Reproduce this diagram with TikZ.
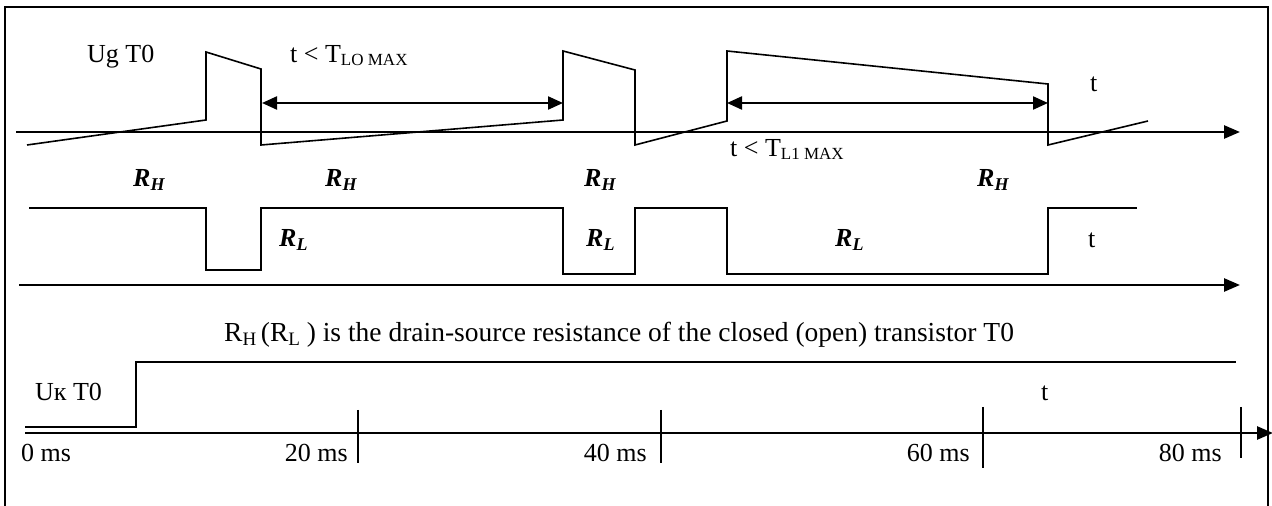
\documentclass[tikz,border=0pt]{standalone}
\usepackage{fontspec}
\setmainfont{Liberation Serif}
\usetikzlibrary{arrows.meta}
\newcommand{\subsc}[1]{\raisebox{-0.25ex}{\fontsize{17bp}{20bp}\selectfont #1}}
\newcommand{\capsub}[1]{\raisebox{-0.25ex}{\fontsize{19bp}{22bp}\selectfont #1}}
\newcommand{\rlab}[1]{\textbf{\textit{R}}\raisebox{-0.3ex}{\fontsize{18bp}{20bp}\selectfont\textbf{\textit{#1}}}}
\begin{document}
\begin{tikzpicture}[x=1bp,y=-1bp,
  wave/.style={line width=1.6bp, line join=miter},
  axisline/.style={line width=2.6bp, -{Triangle[length=16bp,width=13bp]}},
  dim/.style={line width=2.2bp, {Triangle[length=15bp,width=13bp]}-{Triangle[length=15bp,width=13bp]}},
  tick/.style={line width=1.6bp},
  lbl/.style={inner sep=0pt, font=\fontsize{26bp}{30bp}\selectfont},
  caplbl/.style={inner sep=0pt, font=\fontsize{27.5bp}{31bp}\selectfont},
  frame/.style={line width=2.6bp}]
\useasboundingbox (0,0) rectangle (1272,506);
% frame
\draw[frame] (5,506) -- (5,7) -- (1268,7) -- (1268,506);

% ---- top panel: gate voltage ----
\coordinate (a1s) at (16,132);
\coordinate (a1e) at (1240,132);
\draw[axisline] (a1s) -- (a1e);
\draw[wave] (27,145) -- (206,120) -- (206,52) -- (261,69) -- (261,145)
  -- (563,120) -- (563,51) -- (635,70) -- (635,145)
  -- (727,121) -- (727,51) -- (1048,84) -- (1048,145) -- (1148,121);
\coordinate (d1s) at (262,103);
\coordinate (d1e) at (563,103);
\coordinate (d2s) at (727,103);
\coordinate (d2e) at (1048,103);
\draw[dim] (d1s) -- (d1e);
\draw[dim] (d2s) -- (d2e);
\node[lbl, anchor=base west] (ug) at (87,63) {Ug T0};
\node[lbl, anchor=base west] (tl0) at (290,63) {t {\textless} T\subsc{LO MAX}};
\node[lbl, anchor=base west] (tl1) at (730,157) {t {\textless} T\subsc{L1 MAX}};
\node[lbl, anchor=base west] (t1) at (1090,92) {t};

% ---- middle panel: resistance ----
\node[lbl, anchor=base west] (rh1) at (133,187) {\rlab{H}};
\node[lbl, anchor=base west] (rh2) at (325,187) {\rlab{H}};
\node[lbl, anchor=base west] (rh3) at (584,187) {\rlab{H}};
\node[lbl, anchor=base west] (rh4) at (977,187) {\rlab{H}};
\draw[wave] (29,208) -- (206,208) -- (206,270) -- (261,270) -- (261,208)
  -- (563,208) -- (563,274) -- (635,274) -- (635,208) -- (727,208)
  -- (727,274) -- (1048,274) -- (1048,208) -- (1137,208);
\node[lbl, anchor=base west] (rl1) at (279,247) {\rlab{L}};
\node[lbl, anchor=base west] (rl2) at (586,247) {\rlab{L}};
\node[lbl, anchor=base west] (rl3) at (835,247) {\rlab{L}};
\node[lbl, anchor=base west] (t2) at (1088,248) {t};
\coordinate (a2s) at (19,285);
\coordinate (a2e) at (1240,285);
\draw[axisline] (a2s) -- (a2e);

% ---- bottom panel ----
\node[caplbl, anchor=base west] (cap) at (224,342) {R\capsub{H}\,(R\capsub{L} ) is the drain-source resistance of the closed (open) transistor T0};
\draw[wave] (25,427) -- (136,427) -- (136,362) -- (1236,362);
\node[lbl, anchor=base west] (uk) at (35,400) {Uк T0};
\node[lbl, anchor=base west] (t3) at (1041,400) {t};
\coordinate (a3s) at (25,433);
\coordinate (a3e) at (1273,433);
\draw[axisline] (a3s) -- (a3e);
\draw[tick] (358,410) -- (358,463);
\draw[tick] (661,410) -- (661,463);
\draw[tick] (983,407) -- (983,468);
\draw[tick] (1241,407) -- (1241,458);
\node[lbl, anchor=base west] (m0) at (21,461) {0 ms};
\node[lbl, anchor=base east] (m20) at (348,461) {20 ms};
\node[lbl, anchor=base east] (m40) at (647,461) {40 ms};
\node[lbl, anchor=base east] (m60) at (970,461) {60 ms};
\node[lbl, anchor=base east] (m80) at (1222,461) {80 ms};
\end{tikzpicture}
\end{document}
